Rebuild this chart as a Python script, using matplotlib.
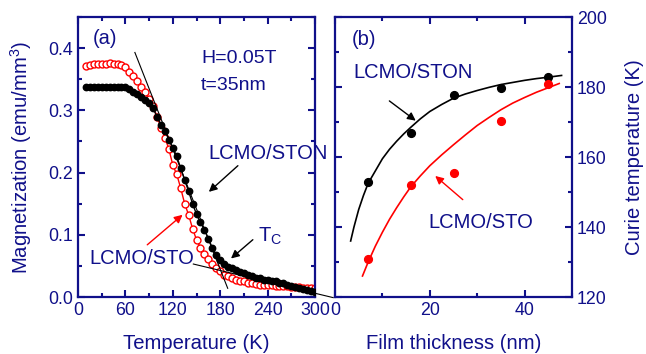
"""Magnetization vs temperature (a) and Curie temperature vs film thickness (b)."""

import matplotlib
matplotlib.use("Agg")
import matplotlib.pyplot as plt
from matplotlib.ticker import MultipleLocator, FormatStrFormatter

NAVY = "#10108a"
RED = "#ff0000"

# Панель (a): M(T), шаг 5 K
temps = list(range(10, 305, 5))
m_ston = [0.338, 0.338, 0.338, 0.338, 0.338, 0.338, 0.338, 0.338, 0.338, 0.338,
          0.337, 0.334, 0.330, 0.326, 0.322, 0.317, 0.311, 0.303, 0.290, 0.277,
          0.267, 0.253, 0.240, 0.226, 0.207, 0.188, 0.170, 0.150, 0.133, 0.120,
          0.108, 0.094, 0.079, 0.068, 0.059, 0.053, 0.049, 0.046, 0.043, 0.040,
          0.038, 0.035, 0.033, 0.031, 0.030, 0.028, 0.027, 0.026, 0.025, 0.023,
          0.022, 0.020, 0.018, 0.016, 0.014, 0.013, 0.011, 0.009, 0.008]
m_sto = [0.372, 0.373, 0.374, 0.374, 0.375, 0.375, 0.376, 0.375, 0.375, 0.373,
         0.369, 0.362, 0.355, 0.347, 0.338, 0.329, 0.318, 0.307, 0.290, 0.272,
         0.256, 0.238, 0.212, 0.197, 0.175, 0.150, 0.132, 0.110, 0.092, 0.079,
         0.069, 0.061, 0.053, 0.046, 0.042, 0.036, 0.033, 0.030, 0.027, 0.026,
         0.025, 0.023, 0.022, 0.021, 0.020, 0.020, 0.019, 0.019, 0.018, 0.018,
         0.017, 0.017, 0.016, 0.016, 0.016, 0.015, 0.015, 0.015, 0.015]

# касательные для определения Tc
tangent_steep_t = [72, 189.5]
tangent_steep_m = [0.393, 0.014]
tangent_flat_t = [146, 323]
tangent_flat_m = [0.053, -0.001]

# Панель (b): Tc(t)
thickness = [7, 16, 25, 35, 45]
tc_ston = [153.0, 167.0, 177.8, 179.8, 182.9]
tc_sto = [130.8, 151.9, 155.5, 170.4, 181.0]

# кривые подгонки
fit_ston_t = [3.3, 4, 5, 6, 7, 8.5, 10, 11.5, 13, 14.5, 16, 18, 20, 22.5, 25,
              27.5, 30, 32.5, 35, 37.5, 40, 42.5, 45, 47.8]
fit_ston_tc = [136.0, 140.0, 145.0, 149.0, 152.5, 156.0, 159.5, 162.2, 164.5, 166.6,
               168.5, 170.9, 173.0, 175.0, 176.8, 178.0, 179.0, 179.9, 180.7, 181.3,
               181.9, 182.4, 182.8, 183.3]
fit_sto_t = [5.8, 7, 8.5, 10, 11.5, 13, 14.5, 16, 18, 20, 22.5, 25, 27.5, 30,
             32.5, 35, 37.5, 40, 42.5, 45, 47.3]
fit_sto_tc = [126.0, 130.0, 134.5, 138.5, 142.2, 145.5, 148.6, 151.5, 154.6, 157.5,
              160.6, 163.5, 166.3, 169.0, 171.3, 173.5, 175.4, 177.0, 178.5, 179.8, 181.0]

plt.rcParams['font.family'] = ['Liberation Sans', 'DejaVu Sans']
plt.rcParams['font.size'] = 12.5
plt.rcParams['mathtext.fontset'] = 'custom'
plt.rcParams['mathtext.rm'] = 'Liberation Sans'

LABEL_FS = 14.6
NOTE_FS = 14.5


def style_axes(ax):
    for sp in ax.spines.values():
        sp.set_color(NAVY)
        sp.set_linewidth(1.6)
    ax.tick_params(which='both', direction='in', top=True, right=True,
                   color=NAVY, labelcolor=NAVY, width=1.5, labelsize=12.8)
    ax.tick_params(which='major', length=5, pad=3.5)
    ax.tick_params(which='minor', length=3)


fig = plt.figure(figsize=(6.46, 3.54), dpi=100)
ax1 = fig.add_axes([78 / 646, 57 / 354, 237 / 646, 280 / 354])
ax2 = fig.add_axes([335 / 646, 57 / 354, 237 / 646, 280 / 354])

# --- (a) ---
ax1.plot(temps, m_ston, '-', color='black', lw=1, marker='o', ms=4.6,
         mfc='black', mec='black', zorder=3)
ax1.plot(temps, m_sto, '-', color=RED, lw=1, marker='o', ms=5,
         mfc='white', mec=RED, mew=1, zorder=2)
ax1.plot(tangent_steep_t, tangent_steep_m, color='black', lw=0.8, zorder=4)
ax1.plot(tangent_flat_t, tangent_flat_m, color='black', lw=0.8, zorder=4, clip_on=False)

ax1.set_xlim(0, 300)
ax1.set_ylim(0, 0.45)
ax1.xaxis.set_major_locator(MultipleLocator(60))
ax1.xaxis.set_minor_locator(MultipleLocator(30))
ax1.yaxis.set_major_locator(MultipleLocator(0.1))
ax1.yaxis.set_minor_locator(MultipleLocator(0.05))
ax1.yaxis.set_major_formatter(FormatStrFormatter('%.1f'))
style_axes(ax1)
ax1.set_xlabel('Temperature (K)', color=NAVY, fontsize=LABEL_FS, labelpad=11)
ax1.set_ylabel('Magnetization (emu/mm$^3$)', color=NAVY, fontsize=LABEL_FS, labelpad=10)

ax1.text(19, 0.415, '(a)', color=NAVY, fontsize=NOTE_FS, va='center')
ax1.text(156, 0.376, 'H=0.05T', color=NAVY, fontsize=14, va='baseline')
ax1.text(156, 0.333, 't=35nm', color=NAVY, fontsize=14, va='baseline')
ax1.text(164.5, 0.222, 'LCMO/STON', color=NAVY, fontsize=NOTE_FS, va='baseline', clip_on=False)
ax1.annotate('', xy=(163, 0.166), xytext=(205, 0.214),
             arrowprops=dict(arrowstyle='-|>', color='black', lw=1, mutation_scale=12))
ax1.text(227.5, 0.089, 'T$_\\mathregular{C}$', color=NAVY, fontsize=NOTE_FS, va='baseline')
ax1.annotate('', xy=(191, 0.059), xytext=(224, 0.095),
             arrowprops=dict(arrowstyle='-|>', color='black', lw=1, mutation_scale=12))
ax1.text(13.9, 0.0527, 'LCMO/STO', color=NAVY, fontsize=NOTE_FS, va='baseline')
ax1.annotate('', xy=(135, 0.135), xytext=(85, 0.081),
             arrowprops=dict(arrowstyle='-|>', color=RED, lw=1, mutation_scale=12))

# --- (b) ---
ax2.plot(fit_ston_t, fit_ston_tc, '-', color='black', lw=1.2)
ax2.plot(fit_sto_t, fit_sto_tc, '-', color=RED, lw=1.2)
ax2.plot(thickness, tc_ston, 'o', color='black', ms=5.6)
ax2.plot(thickness, tc_sto, 'o', color=RED, ms=5.6)

ax2.set_xlim(0, 50)
ax2.set_ylim(120, 200)
ax2.xaxis.set_major_locator(MultipleLocator(20))
ax2.xaxis.set_minor_locator(MultipleLocator(10))
ax2.yaxis.set_major_locator(MultipleLocator(20))
ax2.yaxis.set_minor_locator(MultipleLocator(10))
style_axes(ax2)
ax2.tick_params(axis='y', labelleft=False, labelright=True)
ax2.yaxis.set_label_position('right')
ax2.set_xlabel('Film thickness (nm)', color=NAVY, fontsize=LABEL_FS, labelpad=11)
ax2.set_ylabel('Curie temperature (K)', color=NAVY, fontsize=LABEL_FS, labelpad=13)

ax2.text(3.5, 193.7, '(b)', color=NAVY, fontsize=NOTE_FS, va='center')
ax2.text(3.8, 182.5, 'LCMO/STON', color=NAVY, fontsize=NOTE_FS, va='baseline')
ax2.annotate('', xy=(17.5, 169.9), xytext=(11, 176.5),
             arrowprops=dict(arrowstyle='-|>', color='black', lw=1, mutation_scale=12))
ax2.text(19.6, 139.7, 'LCMO/STO', color=NAVY, fontsize=NOTE_FS, va='baseline')
ax2.annotate('', xy=(20.7, 155.1), xytext=(27.4, 147.3),
             arrowprops=dict(arrowstyle='-|>', color=RED, lw=1, mutation_scale=12))

fig.savefig('out.png', dpi=100)
